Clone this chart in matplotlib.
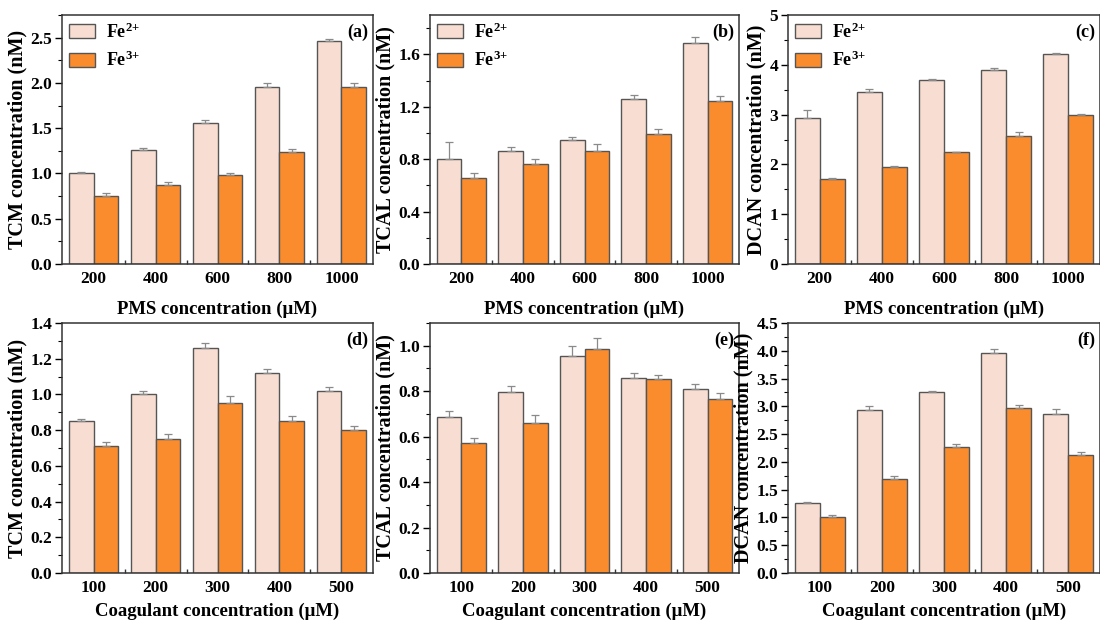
import matplotlib
matplotlib.use("Agg")
import matplotlib.pyplot as plt
import numpy as np
from matplotlib.ticker import MultipleLocator, FormatStrFormatter

plt.rcParams["font.family"] = ["Liberation Serif", "DejaVu Serif"]
plt.rcParams["font.weight"] = "bold"
plt.rcParams["mathtext.fontset"] = "custom"
plt.rcParams["mathtext.rm"] = "Liberation Serif:bold"
plt.rcParams["mathtext.bf"] = "Liberation Serif:bold"
plt.rcParams["mathtext.it"] = "Liberation Serif:bold"
plt.rcParams["mathtext.default"] = "bf"

# ---- data ----
pms_levels = ["200", "400", "600", "800", "1000"]
coag_levels = ["100", "200", "300", "400", "500"]

tcm_pms_fe2 = [1.00, 1.26, 1.56, 1.96, 2.46]
tcm_pms_fe2_err = [0.02, 0.02, 0.03, 0.04, 0.03]
tcm_pms_fe3 = [0.75, 0.87, 0.98, 1.24, 1.96]
tcm_pms_fe3_err = [0.03, 0.04, 0.03, 0.03, 0.04]

tcal_pms_fe2 = [0.80, 0.86, 0.95, 1.26, 1.69]
tcal_pms_fe2_err = [0.13, 0.03, 0.02, 0.03, 0.04]
tcal_pms_fe3 = [0.66, 0.76, 0.86, 0.99, 1.24]
tcal_pms_fe3_err = [0.035, 0.045, 0.055, 0.04, 0.045]

dcan_pms_fe2 = [2.94, 3.46, 3.70, 3.90, 4.21]
dcan_pms_fe2_err = [0.16, 0.05, 0.02, 0.03, 0.03]
dcan_pms_fe3 = [1.70, 1.94, 2.24, 2.57, 2.99]
dcan_pms_fe3_err = [0.02, 0.02, 0.01, 0.09, 0.02]

tcm_coag_fe2 = [0.85, 1.00, 1.26, 1.12, 1.02]
tcm_coag_fe2_err = [0.01, 0.02, 0.03, 0.02, 0.02]
tcm_coag_fe3 = [0.71, 0.75, 0.95, 0.85, 0.80]
tcm_coag_fe3_err = [0.025, 0.03, 0.04, 0.03, 0.025]

tcal_coag_fe2 = [0.685, 0.795, 0.957, 0.857, 0.81]
tcal_coag_fe2_err = [0.03, 0.03, 0.04, 0.025, 0.022]
tcal_coag_fe3 = [0.57, 0.66, 0.987, 0.853, 0.766]
tcal_coag_fe3_err = [0.026, 0.034, 0.045, 0.02, 0.026]

dcan_coag_fe2 = [1.26, 2.94, 3.26, 3.96, 2.86]
dcan_coag_fe2_err = [0.02, 0.06, 0.02, 0.08, 0.09]
dcan_coag_fe3 = [1.01, 1.70, 2.26, 2.97, 2.13]
dcan_coag_fe3_err = [0.04, 0.04, 0.06, 0.05, 0.04]

series_labels = ["Fe$^{2{+}}$", "Fe$^{3{+}}$"]
color_fe2 = "#F8DED2"
color_fe3 = "#FA8C2D"
edge = "#555555"

fig = plt.figure(figsize=(11.0, 6.31), dpi=100)
W, H = 1100.0, 631.0


def make_axes(left, right, top, bottom):
    return fig.add_axes([left / W, 1 - bottom / H, (right - left) / W, (bottom - top) / H])


panels = [
    # (pixel box, categories, fe2, fe2err, fe3, fe3err, ylabel, xlabel, tag, ylim, major, minor, fmt,
    #  legend, xlabel pad)
    ((62, 373, 15, 264), pms_levels, tcm_pms_fe2, tcm_pms_fe2_err, tcm_pms_fe3, tcm_pms_fe3_err,
     "TCM concentration (nM)", "PMS concentration (\u03bcM)", "(a)", 2.75, 0.5, 0.25, "%.1f", True, 10),
    ((430, 739, 15, 264), pms_levels, tcal_pms_fe2, tcal_pms_fe2_err, tcal_pms_fe3, tcal_pms_fe3_err,
     "TCAL concentration (nM)", "PMS concentration (\u03bcM)", "(b)", 1.9, 0.4, 0.2, "%.1f", True, 10),
    ((788, 1100, 15, 264), pms_levels, dcan_pms_fe2, dcan_pms_fe2_err, dcan_pms_fe3, dcan_pms_fe3_err,
     "DCAN concentration (nM)", "PMS concentration (\u03bcM)", "(c)", 5.0, 1.0, 0.5, "%d", True, 10),
    ((62, 373, 323, 573), coag_levels, tcm_coag_fe2, tcm_coag_fe2_err, tcm_coag_fe3, tcm_coag_fe3_err,
     "TCM concentration (nM)", "Coagulant concentration (\u03bcM)", "(d)", 1.4, 0.2, 0.1, "%.1f", False, 5),
    ((430, 739, 323, 573), coag_levels, tcal_coag_fe2, tcal_coag_fe2_err, tcal_coag_fe3, tcal_coag_fe3_err,
     "TCAL concentration (nM)", "Coagulant concentration (\u03bcM)", "(e)", 1.1, 0.2, 0.1, "%.1f", False, 5),
    ((788, 1100, 323, 573), coag_levels, dcan_coag_fe2, dcan_coag_fe2_err, dcan_coag_fe3, dcan_coag_fe3_err,
     "DCAN concentration (nM)", "Coagulant concentration (\u03bcM)", "(f)", 4.5, 0.5, 0.25, "%.1f", False, 5),
]

bw = 0.4
for (box, cats, f2, e2, f3, e3, ylab, xlab, tag, ymax, major, minor, fmt, show_leg, xpad) in panels:
    ax = make_axes(*box)
    x = np.arange(len(cats))
    err_kw = dict(ecolor="#8a8a8a", elinewidth=0.9, capsize=3, capthick=0.9)
    ax.bar(x - bw / 2, f2, bw, color=color_fe2, edgecolor=edge, linewidth=1.0,
           yerr=[np.zeros(len(e2)), e2], error_kw=err_kw, label=series_labels[0], zorder=2)
    ax.bar(x + bw / 2, f3, bw, color=color_fe3, edgecolor=edge, linewidth=1.0,
           yerr=[np.zeros(len(e3)), e3], error_kw=err_kw, label=series_labels[1], zorder=2)
    ax.set_xlim(-0.51, len(cats) - 0.49)
    ax.set_ylim(0, ymax)
    ax.set_xticks(x)
    ax.set_xticklabels(cats)
    ax.set_xticks(np.arange(0.5, len(cats) - 1, 1.0), minor=True)
    ax.tick_params(axis="x", which="major", length=0, pad=5, labelsize=12.5)
    ax.tick_params(axis="x", which="minor", length=3, direction="in", width=1.0, color="#333333")
    ax.yaxis.set_major_locator(MultipleLocator(major))
    ax.yaxis.set_minor_locator(MultipleLocator(minor))
    ax.yaxis.set_major_formatter(FormatStrFormatter(fmt))
    ax.tick_params(axis="y", which="major", length=5, width=1.0, direction="out", labelsize=12.5, pad=2)
    ax.tick_params(axis="y", which="minor", length=3, width=0.8, direction="out")
    for s in ax.spines.values():
        s.set_linewidth(1.1)
        s.set_color("#333333")
    ax.set_ylabel(ylab, fontsize=14.5, fontweight="bold", labelpad=2)
    ax.set_xlabel(xlab, fontsize=13.5, fontweight="bold", labelpad=xpad)
    ax.text(0.985, 0.965, tag, transform=ax.transAxes, ha="right", va="top",
            fontsize=13, fontweight="bold")
    if show_leg:
        ax.legend(loc="upper left", frameon=False, handlelength=1.45,
                  handleheight=0.8, borderaxespad=0.2, labelspacing=0.5,
                  handletextpad=0.6, borderpad=0.2,
                  prop={"family": "Liberation Serif", "weight": "bold", "size": 13})

fig.savefig("out.png", dpi=100)
